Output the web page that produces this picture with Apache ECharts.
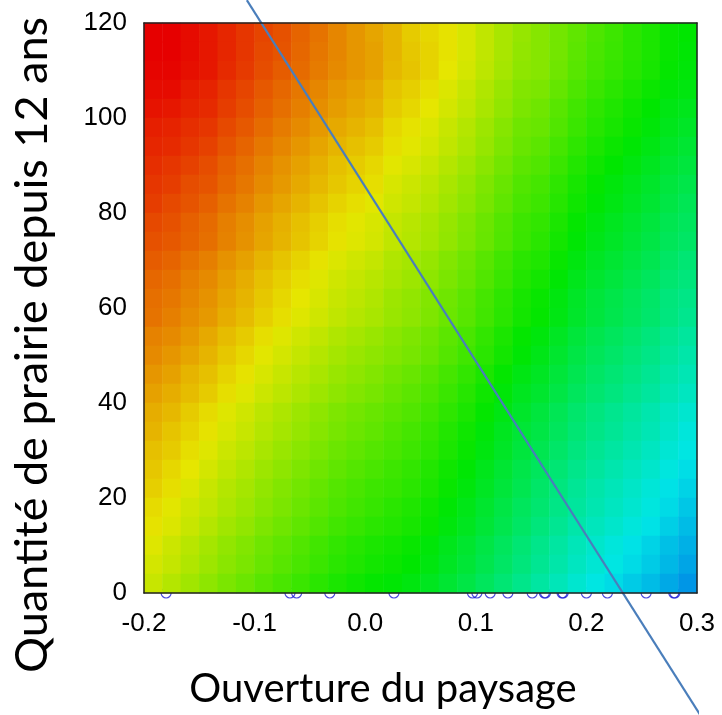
<!DOCTYPE html>
<html>
<head>
<meta charset="utf-8">
<script src="https://cdn.jsdelivr.net/npm/echarts@6/dist/echarts.min.js"></script>
<style>
html,body{margin:0;padding:0;background:#fff;}
#chart{width:722px;height:715px;}
</style>
</head>
<body>
<div id="chart"></div>
<script>
// Heat values (colour hue, 0 = red ... 210 = blue), rows listed from top (y=120) to bottom (y=0)
const gridRows = [
 [0,0,3,6,10,14,18,21,26,30,35,39,43,47,53,56,59,64,70,76,81,85,90,95,100,104,109,113,118,120],
 [0,0,3,6,10,14,19,22,27,31,35,39,42,47,52,55,59,64,70,76,82,85,90,96,101,105,109,113,118,121],
 [1,1,4,6,11,15,20,24,28,32,36,39,42,48,51,55,60,65,71,77,83,85,91,97,102,106,110,114,119,122],
 [3,3,7,9,14,18,23,27,31,35,39,42,45,51,54,58,63,68,74,80,86,88,94,100,105,109,113,117,122,124],
 [5,6,9,11,16,20,25,29,33,37,41,44,47,53,56,60,65,70,76,82,88,91,97,103,108,112,116,120,125,127],
 [8,9,12,14,19,23,28,32,36,40,44,47,50,56,59,63,68,73,79,85,91,93,99,105,110,114,118,122,127,130],
 [10,11,14,17,22,26,31,35,39,43,47,50,53,58,61,65,70,75,81,87,93,96,102,108,113,117,121,125,130,133],
 [12,14,17,20,25,29,34,38,42,46,50,53,56,61,64,68,73,78,84,90,96,99,105,111,116,120,124,128,133,136],
 [14,16,20,22,27,31,36,40,44,48,52,55,58,64,67,71,76,81,87,93,99,102,108,114,119,123,127,131,136,139],
 [16,19,22,25,30,34,39,43,47,51,55,58,61,66,69,73,78,83,89,95,101,104,110,116,121,125,129,133,138,142],
 [19,21,25,28,33,37,42,46,50,54,58,61,64,69,72,76,81,86,92,98,104,107,113,119,124,128,132,136,141,144],
 [21,23,26,29,34,38,43,47,51,55,59,62,65,70,73,77,82,87,93,99,105,109,115,121,126,130,134,138,143,146],
 [24,26,30,33,38,42,47,51,55,59,63,66,69,74,77,81,86,91,97,103,109,112,118,124,129,133,137,141,146,150],
 [27,29,33,36,41,45,50,54,58,62,66,69,72,76,79,83,88,93,99,105,111,115,121,127,132,136,140,144,149,152],
 [29,31,35,38,43,47,52,56,60,64,68,71,74,79,82,86,91,96,102,108,114,118,124,130,135,139,143,147,152,155],
 [30,33,37,40,45,49,54,58,62,66,70,73,76,80,83,87,92,97,103,109,115,119,125,131,136,140,144,148,153,157],
 [34,36,40,44,49,53,58,62,66,70,74,77,80,84,87,91,96,101,107,113,119,123,129,135,140,144,148,152,157,161],
 [36,39,43,47,52,56,61,65,69,73,77,80,83,86,89,93,98,103,109,115,121,126,132,138,143,147,151,155,160,164],
 [39,42,47,50,55,59,64,68,72,76,80,83,86,90,93,97,102,107,113,119,125,129,135,141,146,150,154,158,163,167],
 [42,45,49,53,58,62,67,71,75,79,83,86,89,93,96,100,105,110,116,122,128,132,138,144,149,153,157,161,166,170],
 [45,48,53,57,62,66,71,75,79,83,87,90,93,96,99,103,108,113,119,125,131,136,142,148,153,157,161,165,170,174],
 [47,51,55,59,64,68,73,77,81,85,89,92,95,99,102,106,111,116,122,128,134,138,144,150,155,159,163,167,172,177],
 [50,53,58,62,67,71,76,80,84,88,92,95,98,101,104,108,113,118,124,130,136,141,147,153,158,162,166,170,175,179],
 [52,56,60,65,70,74,79,83,87,91,95,98,101,104,107,111,116,121,127,133,139,144,150,156,161,165,169,173,178,182],
 [54,58,63,68,73,77,82,86,90,94,98,101,104,106,109,113,118,123,129,135,141,147,153,159,164,168,172,176,181,185],
 [57,61,66,70,75,79,84,88,92,96,100,103,106,109,112,116,121,126,132,138,144,149,155,161,166,170,174,178,183,188],
 [59,63,68,73,78,82,87,91,95,99,103,106,109,111,114,118,123,128,134,140,146,152,158,164,169,173,177,181,186,191],
 [62,67,72,77,82,86,91,95,99,103,107,110,113,115,118,122,127,132,138,144,150,156,162,168,173,177,181,185,190,194],
 [65,69,74,79,84,88,93,97,101,105,109,112,115,117,120,124,129,134,140,146,152,158,164,170,175,179,183,187,192,197],
 [68,73,78,83,88,92,97,101,105,109,113,116,119,121,124,128,133,138,144,150,156,162,168,174,179,183,187,191,196,201]
];
// observed positions along "Ouverture du paysage" (rug at y = 0)
const rugX = [-0.180,-0.068,-0.062,-0.032,0.026,0.097,0.101,0.113,0.129,0.151,0.162,0.163,0.178,0.179,0.200,0.219,0.254,0.279,0.280];
// straight overlay line (two end points)
const lineX = [-0.107, 0.303];
const lineY = [124.8, -25.7];
const xRange = [-0.2, 0.3];
const yRange = [0, 120];
const hueColors = ['#e60000','#e67300','#e6e600','#73e600','#00e600','#00e673','#00e6e6','#0073e6'];

const nCols = gridRows[0].length, nRows = gridRows.length;
const colCats = Array.from({length:nCols},(_,i)=>String(i));
const rowCats = Array.from({length:nRows},(_,i)=>String(i));
const heatData = [];
gridRows.forEach((row,i)=>{
  const yi = nRows-1-i;
  row.forEach((v,j)=>heatData.push([j,yi,v]));
});

const chart = echarts.init(document.getElementById('chart'), null, {renderer:'canvas'});
const lab = {fontFamily:'Liberation Sans', fontSize:26, color:'#000'};
const frame = {show:true, onZero:false, lineStyle:{color:'#222', width:1.5}};
chart.setOption({
  animation:false,
  backgroundColor:'#fff',
  grid:{left:144, right:25, top:23, bottom:122, containLabel:false},
  xAxis:[
    {type:'value', min:xRange[0], max:xRange[1], interval:0.1, position:'bottom', z:10,
     axisLine:frame, axisTick:{show:false}, splitLine:{show:false},
     axisLabel:Object.assign({margin:18, formatter:v=>v.toFixed(1)}, lab)},
    {type:'category', data:colCats, position:'top', z:10, boundaryGap:true,
     axisLine:frame, axisTick:{show:false}, axisLabel:{show:false}, splitLine:{show:false}}
  ],
  yAxis:[
    {type:'value', min:yRange[0], max:yRange[1], interval:20, position:'left', z:10,
     axisLine:frame, axisTick:{show:false}, splitLine:{show:false},
     axisLabel:Object.assign({margin:17}, lab)},
    {type:'category', data:rowCats, position:'right', z:10, boundaryGap:true,
     axisLine:frame, axisTick:{show:false}, axisLabel:{show:false}, splitLine:{show:false}}
  ],
  visualMap:{show:false, type:'continuous', min:0, max:210, dimension:2, seriesIndex:0,
    inRange:{color:hueColors}},
  series:[
    {type:'heatmap', xAxisIndex:1, yAxisIndex:1, data:heatData, z:3,
     itemStyle:{borderWidth:0}, emphasis:{disabled:true}, progressive:0},
    {type:'scatter', xAxisIndex:0, yAxisIndex:0, z:1, clip:false,
     data:rugX.map(x=>[x,0]), symbol:'circle', symbolSize:10,
     itemStyle:{color:'rgba(0,0,0,0)', borderColor:'#1c1cd6', borderWidth:1.2}},
    {type:'line', xAxisIndex:0, yAxisIndex:0, z:5, clip:false,
     data:lineX.map((x,i)=>[x,lineY[i]]), symbol:'none',
     lineStyle:{color:'#4a7ebb', width:2.2}}
  ],
  graphic:[
    {type:'text', x:32, y:345, rotation:Math.PI/2,
     style:{text:'Quantité de prairie depuis 12 ans', font:'45px Lato', fill:'#000', align:'center', verticalAlign:'middle'}},
    {type:'text', x:383, y:689,
     style:{text:'Ouverture du paysage', font:'40px Lato', fill:'#000', align:'center', verticalAlign:'middle'}}
  ]
});
</script>
</body>
</html>
